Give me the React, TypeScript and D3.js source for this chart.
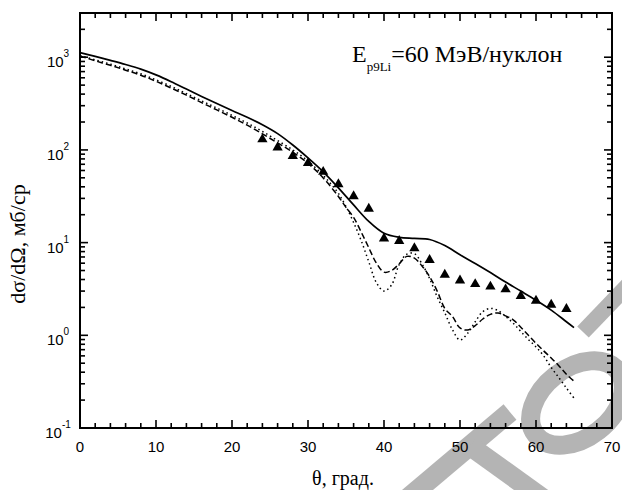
import * as d3 from 'd3';

const W = 622;
const H = 490;
const M = { left: 80, right: 10, top: 13, bottom: 62 };

// solid curve
const solidTheta = [0, 2, 4, 6, 8, 10, 12, 14, 16, 18, 20, 22, 24, 26, 28, 30, 32, 34, 36, 38, 40, 42, 44, 46, 48, 50, 52, 54, 56, 58, 60, 62, 64, 65];
const solidValue = [1120, 1020, 925, 835, 745, 645, 545, 453, 377, 316, 266, 225, 187, 150, 113, 82, 58, 39, 25.5, 16.9, 12.6, 11.4, 11.1, 10.8, 9.3, 7.4, 5.95, 4.75, 3.75, 3.0, 2.39, 1.87, 1.4, 1.21];

// dashed curve
const dashTheta = [0, 2, 4, 6, 8, 10, 12, 14, 16, 18, 20, 22, 24, 26, 28, 30, 32, 34, 35, 36, 37, 38, 39, 40, 41, 42, 43, 44, 45, 46, 47, 48, 49, 50, 51, 52, 53, 54, 55, 56, 57, 58, 59, 60, 61, 62, 63, 64, 65];
const dashValue = [1030, 915, 818, 725, 640, 550, 465, 390, 324, 270, 225, 185, 149, 119, 94.6, 71.6, 49.9, 31.5, 24, 18.7, 13, 8.8, 6.0, 4.8, 5.0, 5.9, 7.1, 6.8, 5.6, 4.3, 3.0, 1.95, 1.6, 1.2, 1.14, 1.27, 1.5, 1.68, 1.74, 1.62, 1.47, 1.22, 1.0, 0.82, 0.68, 0.57, 0.47, 0.38, 0.32];

// dotted curve
const dotTheta = [0, 2, 4, 6, 8, 10, 12, 14, 16, 18, 20, 22, 24, 26, 28, 30, 32, 33, 34, 35, 36, 37, 38, 39, 40, 41, 42, 43, 44, 45, 46, 47, 48, 49, 50, 51, 52, 53, 54, 55, 56, 57, 58, 59, 60, 61, 62, 63, 64, 65];
const dotValue = [1040, 938, 842, 748, 662, 570, 485, 405, 338, 283, 236, 195, 158, 126, 100, 76, 53, 43, 34, 24.5, 16.5, 10.5, 6.2, 3.7, 3.0, 3.5, 5.8, 7.5, 7.6, 5.9, 4.1, 2.6, 1.75, 1.15, 0.89, 1.05, 1.4, 1.8, 1.95, 1.85, 1.6, 1.35, 1.1, 0.9, 0.75, 0.6, 0.45, 0.35, 0.27, 0.21];

// experiment (triangles)
const expTheta = [24, 26, 28, 30, 32, 34, 36, 38, 40, 42, 44, 46, 48, 50, 52, 54, 56, 58, 60, 62, 64];
const expValue = [130, 106, 86, 72, 58, 42.6, 31.6, 23.2, 11.1, 10.4, 8.7, 6.5, 4.5, 3.9, 3.57, 3.35, 3.13, 2.65, 2.36, 2.14, 1.92];

const xMajor = [0, 10, 20, 30, 40, 50, 60, 70];
const xMinor = d3.range(0, 71, 2);
const yDecades = [0.1, 1, 10, 100, 1000];
const yExponents = ['-1', '0', '1', '2', '3'];

const sans = 'Liberation Sans, Arial, sans-serif';
const serif = 'Liberation Serif, DejaVu Serif, serif';
const gray = '#b4b4b4';

export default function App() {
  const x = d3.scaleLinear().domain([0, 70]).range([M.left, W - M.right]);
  const y = d3.scaleLog().domain([0.1, 3000]).range([H - M.bottom, M.top]);
  const [x0, x1] = x.range();
  const [y0, y1] = y.range();

  const yMinor: number[] = [];
  yDecades.forEach(d => {
    for (let k = 2; k <= 9; k++) if (d * k <= 3000) yMinor.push(d * k);
  });

  const line = d3.line<[number, number]>()
    .x(d => x(d[0]))
    .y(d => y(d[1]))
    .curve(d3.curveCatmullRom.alpha(0.5));

  const zip = (a: number[], b: number[]) => a.map((v, i) => [v, b[i]] as [number, number]);
  const tri = d3.symbol(d3.symbolTriangle, 46)();

  return (
    <svg width={W} height={H} style={{ position: 'absolute', left: 0, top: 0, background: '#fff' }}>
      {/* watermark */}
      <g stroke={gray} fill="none">
        <line x1={408} y1={498} x2={510} y2={412} strokeWidth={20} />
        <line x1={470} y1={446} x2={545} y2={500} strokeWidth={20} />
        <ellipse cx={577} cy={403} rx={52} ry={35} strokeWidth={19} transform="rotate(-38 577 403)" />
        <line x1={583} y1={332} x2={632} y2={281} strokeWidth={16} />
      </g>

      {/* curves */}
      <path d={line(zip(solidTheta, solidValue)) || ''} fill="none" stroke="#000" strokeWidth={1.7} />
      <path d={line(zip(dashTheta, dashValue)) || ''} fill="none" stroke="#000" strokeWidth={1.5} strokeDasharray="6,3" />
      <path d={line(zip(dotTheta, dotValue)) || ''} fill="none" stroke="#000" strokeWidth={1.5} strokeDasharray="1.5,3" />

      {expTheta.map((t, i) => (
        <path key={i} d={tri || ''} transform={`translate(${x(t)},${y(expValue[i])})`} fill="#000" />
      ))}

      {/* frame */}
      <rect x={x0} y={y1} width={x1 - x0} height={y0 - y1} fill="none" stroke="#000" strokeWidth={2} />

      {/* ticks, all four sides, pointing inward */}
      <g stroke="#000" strokeWidth={1.6}>
        {xMinor.map(t => {
          const len = t % 10 === 0 ? 8 : 5;
          return (
            <g key={t}>
              <line x1={x(t)} x2={x(t)} y1={y0} y2={y0 - len} />
              <line x1={x(t)} x2={x(t)} y1={y1} y2={y1 + len} />
            </g>
          );
        })}
        {yDecades.concat(yMinor).map(v => {
          const len = yDecades.includes(v) ? 8 : 5;
          return (
            <g key={v}>
              <line x1={x0} x2={x0 + len} y1={y(v)} y2={y(v)} />
              <line x1={x1} x2={x1 - len} y1={y(v)} y2={y(v)} />
            </g>
          );
        })}
      </g>

      {/* x tick labels */}
      {xMajor.map(t => (
        <text key={t} x={x(t)} y={y0 + 24} textAnchor="middle" fontFamily={sans} fontSize={15}>{t}</text>
      ))}

      {/* y tick labels */}
      {yDecades.map((v, i) => (
        <text key={v} x={58} y={y(v) + 10} textAnchor="middle" fontFamily={sans} fontSize={15}>
          10<tspan fontSize={10} dy={-10}>{yExponents[i]}</tspan>
        </text>
      ))}

      {/* annotation */}
      <text x={352} y={62} fontFamily={serif} fontSize={24}>
        E<tspan fontSize={13} dy={9}>p9Li</tspan><tspan dy={-9}>=60 МэВ/нуклон</tspan>
      </text>

      {/* axis titles */}
      <text x={343} y={485} textAnchor="middle" fontFamily={serif} fontSize={20}>θ, град.</text>
      <text transform="translate(25,244) rotate(-90)" textAnchor="middle" fontFamily={serif} fontSize={22}>dσ/dΩ, мб/ср</text>
    </svg>
  );
}
